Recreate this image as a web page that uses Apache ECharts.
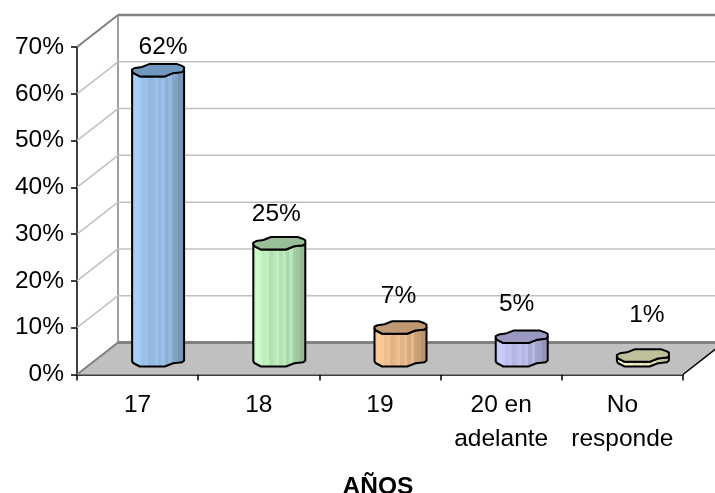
<!DOCTYPE html>
<html><head><meta charset="utf-8">
<style>html,body{margin:0;padding:0;background:#fff}#c{width:715px;height:493px}</style>
<script src="https://cdn.jsdelivr.net/npm/echarts@6/dist/echarts.min.js"></script>
</head><body><div id="c"></div>
<script>
const categories = ['17','18','19','20 en\nadelante','No\nresponde'];
const values = [0.62,0.25,0.07,0.05,0.01];
const sideColors = ['#a6cffb','#ccffcc','#ffcc99','#ccccff','#ffffcc'];
const topColors = ['#7098c0','#99bf99','#c09973','#9999bf','#bfbf99'];
const yTicks = [0,0.1,0.2,0.3,0.4,0.5,0.6,0.7];
const labelShift = [[5,-23],[-3,-29],[-2,-31],[-5,-32],[4,-40]];

const DEPTH_X = 41, DEPTH_Y = -32;
const BAR_OFF_X = 20.5, BAR_OFF_Y = -14.5;
const front = [[-26,1],[-25,3],[-18.3,6.5],[6.7,6.5],[15,3.2],[24,2.2],[26,0.5]];
const back = [[26,-2.7],[24,-4],[18.4,-6],[-8.3,-6],[-16,-3],[-23,-2],[-26,-0.5]];
const outline = front.concat(back);
const shades = [.96,1,.98,.93,.94,.88,.9,.94,.88,.92,.84,.9,.8,.78,.72,.72];

function shade(hex,f){
  const n=parseInt(hex.slice(1),16);
  return 'rgb('+[(n>>16)&255,(n>>8)&255,n&255].map(v=>Math.round(v*f)).join(',')+')';
}
function stripes(hex){
  const s=[];
  shades.forEach((f,i)=>{
    s.push({offset:i/shades.length,color:shade(hex,f)});
    s.push({offset:(i+1)/shades.length,color:shade(hex,f)});
  });
  return new echarts.graphic.LinearGradient(0,0,1,0,s);
}
const font='"Liberation Sans", Arial, sans-serif';
function renderBar(params,api){
  const i=api.value(0), v=api.value(1);
  const base=api.coord([i,0]), top=api.coord([i,v]);
  const cx=base[0]+BAR_OFF_X, by=base[1]+BAR_OFF_Y, ty=top[1]+BAR_OFF_Y;
  const side=front.map(p=>[cx+p[0],ty+p[1]]).concat(front.slice().reverse().map(p=>[cx+p[0],by+p[1]]));
  const cap=outline.map(p=>[cx+p[0],ty+p[1]]);
  const ls=labelShift[i];
  return {type:'group',children:[
    {type:'polygon',shape:{points:side},style:{fill:stripes(sideColors[i]),stroke:'#000',lineWidth:2,lineJoin:'round'}},
    {type:'polygon',shape:{points:cap},style:{fill:topColors[i],stroke:'#000',lineWidth:2,lineJoin:'round'}},
    {type:'text',style:{x:cx+ls[0],y:ty+ls[1],text:Math.round(v*100)+'%',fill:'#000',
      font:'24.5px '+font,align:'center',verticalAlign:'middle'}}
  ]};
}
function renderWall(params,api){
  const v=api.value(0);
  const half=api.size([1,0])[0]/2;
  const c0=api.coord([0,v]), c4=api.coord([categories.length-1,v]);
  const a=[c0[0]-half,c0[1]], r=[c4[0]+half,c4[1]];
  const isTop=v===yTicks[yTicks.length-1], isBase=v===0;
  const col=(isTop||isBase)?'#808080':'#c0c0c0';
  const lw=isBase?3:(isTop?2.5:1.5);
  const kids=[];
  if(isBase){
    kids.push({type:'polygon',shape:{points:[[a[0],a[1]],[a[0]+DEPTH_X,a[1]+DEPTH_Y],[r[0]+DEPTH_X,a[1]+DEPTH_Y],[r[0],a[1]]]},
      style:{fill:'#c0c0c0'}});
    const t=api.coord([0,yTicks[yTicks.length-1]]);
    kids.push({type:'line',shape:{x1:a[0]+DEPTH_X,y1:a[1]+DEPTH_Y,x2:a[0]+DEPTH_X,y2:t[1]+DEPTH_Y},style:{stroke:'#a0a0a0',lineWidth:2}});
    kids.push({type:'line',shape:{x1:r[0],y1:r[1],x2:r[0]+DEPTH_X,y2:r[1]+DEPTH_Y},style:{stroke:'#000',lineWidth:1.5}});
  }
  kids.push({type:'line',shape:{x1:a[0]+DEPTH_X,y1:a[1]+DEPTH_Y,x2:r[0]+DEPTH_X,y2:r[1]+DEPTH_Y},style:{stroke:col,lineWidth:lw}});
  kids.push({type:'line',shape:{x1:a[0],y1:a[1],x2:a[0]+DEPTH_X,y2:a[1]+DEPTH_Y},style:{stroke:col,lineWidth:(isTop||isBase)?2:1.5}});
  return {type:'group',children:kids};
}
const chart=echarts.init(document.getElementById('c'),null,{renderer:'canvas'});
chart.setOption({
  animation:false,
  backgroundColor:'#fff',
  grid:{left:77,top:47,width:606,height:327.5,containLabel:false,outerBoundsMode:'none'},
  xAxis:{type:'category',data:categories,name:'AÑOS',nameLocation:'middle',nameGap:100,
    nameTextStyle:{color:'#000',fontFamily:font,fontSize:24.5,fontWeight:'bold',padding:[0,4,0,0]},
    axisLine:{show:true,onZero:false,lineStyle:{color:'#000',width:1.5}},
    axisTick:{show:true,length:6,lineStyle:{color:'#000',width:1.5}},
    axisLabel:{color:'#000',fontFamily:font,fontSize:24.5,margin:14,lineHeight:33.6,interval:0}},
  yAxis:{type:'value',min:0,max:0.7,interval:0.1,
    axisLine:{show:true,lineStyle:{color:'#000',width:1.5}},
    axisTick:{show:true,length:6,lineStyle:{color:'#000',width:1.5}},
    splitLine:{show:false},
    axisLabel:{color:'#000',fontFamily:font,fontSize:24.5,margin:13,padding:[4,0,0,0],formatter:v=>Math.round(v*100)+'%'}},
  series:[
    {type:'custom',name:'wall',coordinateSystem:'cartesian2d',clip:false,z:1,silent:true,
      encode:{y:0},renderItem:renderWall,data:yTicks.map(v=>[v])},
    {type:'custom',name:'AÑOS',coordinateSystem:'cartesian2d',clip:false,z:3,
      encode:{x:0,y:1},renderItem:renderBar,data:values.map((v,i)=>[i,v])}
  ]
});
</script></body></html>
